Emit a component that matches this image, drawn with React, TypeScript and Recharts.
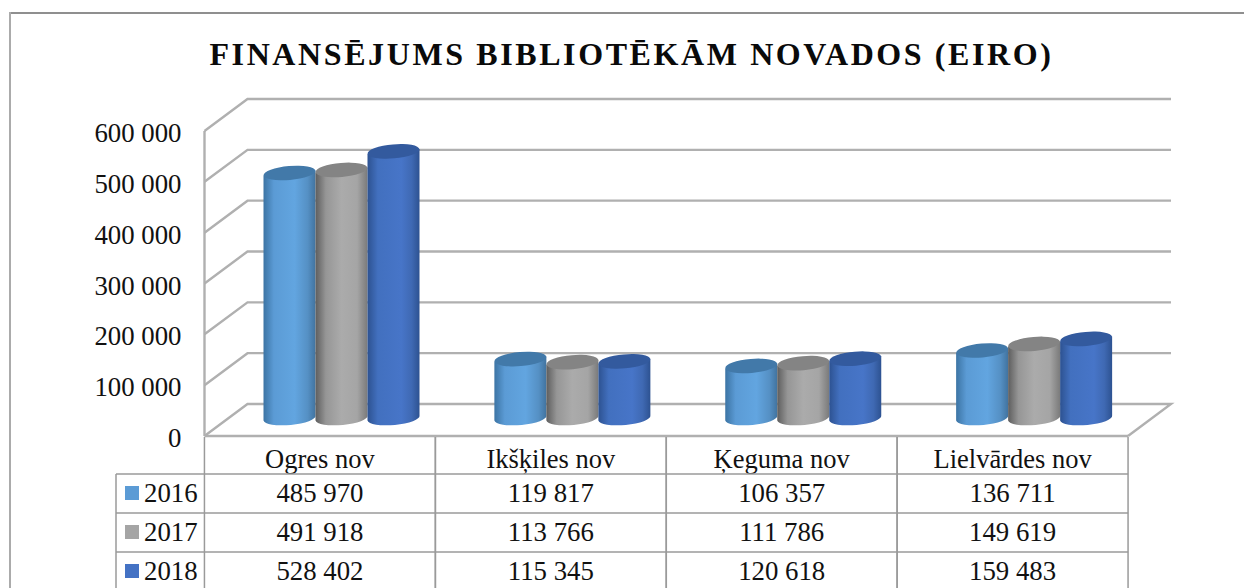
import { BarChart, Bar, XAxis, YAxis, CartesianGrid } from 'recharts';

const categories = ['Ogres nov', 'Ikšķiles nov', 'Ķeguma nov', 'Lielvārdes nov'];
const values2016 = [485970, 119817, 106357, 136711];
const values2017 = [491918, 113766, 111786, 149619];
const values2018 = [528402, 115345, 120618, 159483];
const yTicks = [0, 100000, 200000, 300000, 400000, 500000, 600000];

const seriesNames = ['2016', '2017', '2018'];
const seriesValues = [values2016, values2017, values2018];
const seriesColors = ['#5b9bd5', '#a5a5a5', '#4472c4'];
const topColors = ['#4279a9', '#848484', '#335a9e'];

const chartData = categories.map((name, i) => ({
  name,
  y2016: values2016[i],
  y2017: values2017[i],
  y2018: values2018[i],
}));

const FONT = '"Liberation Serif", "Times New Roman", serif';
const DEPTH_X = 43;
const DEPTH_Y = 32;
const WALL = '#b0b0b0';
const TABLE = '#9a9a9a';

const fmt = (n: number) => String(n).replace(/\B(?=(\d{3})+$)/g, ' ');

// bars stand halfway into the floor
const Cylinder = (props: any) => {
  const { x, y, width, height, index, seriesIdx } = props;
  const cx = x + 22;
  const top = y - 16;
  const base = y + height - 18;
  const rx = width / 2;
  const ry = 7;
  const tilt = 2.5;
  const right = cx + width;
  return (
    <g key={index}>
      <path
        d={`M${cx},${top + tilt} L${cx},${base + tilt} A${rx},${ry} -5 0 0 ${right},${base - tilt} L${right},${top - tilt} Z`}
        fill={`url(#cyl${seriesIdx})`}
      />
      <ellipse
        cx={cx + rx}
        cy={top}
        rx={rx}
        ry={ry}
        transform={`rotate(-5 ${cx + rx} ${top})`}
        fill={topColors[seriesIdx]}
      />
    </g>
  );
};

const renderGridLine = (props: any) => {
  const { x1, x2, y1, index } = props;
  const isFloor = Math.abs(y1 - 436) < 1;
  const backY = y1 - DEPTH_Y;
  return (
    <g key={index}>
      <polyline
        points={`${x1},${y1} ${x1 + DEPTH_X},${backY} ${x2 + DEPTH_X},${backY}${isFloor ? ` ${x2},${y1}` : ''}`}
        fill="none"
        stroke={WALL}
        strokeWidth={2.4}
      />
      {isFloor && <line x1={x1} x2={x2} y1={y1} y2={y1} stroke={WALL} strokeWidth={2.4} />}
    </g>
  );
};

const YTick = ({ x, y, payload }: any) => (
  <text x={x} y={y + 11} textAnchor="end" fontFamily={FONT} fontSize={26.8} fill="#111">
    {fmt(payload.value)}
  </text>
);

const ROW_TOP = 474;
const ROW_H = 39;
const COL_W = 231;

// the data table under the plot hangs off the category ticks
const TableTick = ({ x, payload, index }: any) => {
  const left = x - COL_W / 2;
  const right = left + COL_W;
  const textProps = { fontFamily: FONT, fontSize: 26.5, fill: '#111' };
  return (
    <g>
      <line x1={left} x2={left} y1={437} y2={588} stroke={TABLE} strokeWidth={1.5} />
      <line x1={right} x2={right} y1={437} y2={588} stroke={TABLE} strokeWidth={1.5} />
      <text x={x} y={468} textAnchor="middle" {...textProps}>
        {payload.value}
      </text>
      {seriesValues.map((vals, s) => (
        <g key={seriesNames[s]}>
          <line x1={left} x2={right} y1={ROW_TOP + s * ROW_H} y2={ROW_TOP + s * ROW_H} stroke={TABLE} strokeWidth={1.5} />
          <text x={x} y={ROW_TOP + 28 + s * ROW_H} textAnchor="middle" {...textProps} fontSize={26.8}>
            {fmt(vals[index])}
          </text>
          {index === 0 && (
            <>
              <line x1={116} x2={left} y1={ROW_TOP + s * ROW_H} y2={ROW_TOP + s * ROW_H} stroke={TABLE} strokeWidth={1.5} />
              <rect x={125} y={ROW_TOP + 12 + s * ROW_H} width={14} height={14} fill={seriesColors[s]} />
              <text x={144} y={ROW_TOP + 28 + s * ROW_H} {...textProps} fontSize={26.8}>
                {seriesNames[s]}
              </text>
            </>
          )}
        </g>
      ))}
      {index === 0 && <line x1={116} x2={116} y1={ROW_TOP} y2={588} stroke={TABLE} strokeWidth={1.5} />}
    </g>
  );
};

const App = () => {
  return (
    <div style={{ position: 'absolute', left: 0, top: 0, width: 1244, height: 588, overflow: 'hidden', background: '#fff' }}>
      <div style={{ position: 'absolute', left: 9, top: 12, width: 1235, height: 2, background: '#8f8f8f' }} />
      <div style={{ position: 'absolute', left: 9, top: 12, width: 2, height: 576, background: '#ababab' }} />
      <div
        style={{
          position: 'absolute',
          left: 0,
          width: 1263,
          top: 36,
          textAlign: 'center',
          fontFamily: FONT,
          fontWeight: 'bold',
          fontSize: 32,
          letterSpacing: 2.6,
          lineHeight: '36px',
          color: '#0a0a0a',
        }}
      >
        FINANSĒJUMS BIBLIOTĒKĀM NOVADOS (EIRO)
      </div>
      <BarChart
        width={1244}
        height={588}
        data={chartData}
        margin={{ top: 131, right: 116, bottom: 0, left: 0 }}
        barCategoryGap={39}
        barGap={0}
        style={{ position: 'absolute', left: 0, top: 0 }}
      >
        <defs>
          <linearGradient id="cyl0" x1="0" x2="1" y1="0" y2="0">
            <stop offset="0" stopColor="#3c74a4" />
            <stop offset="0.2" stopColor="#5b9bd5" />
            <stop offset="0.6" stopColor="#62a5e0" />
            <stop offset="0.85" stopColor="#5590c4" />
            <stop offset="1" stopColor="#41739f" />
          </linearGradient>
          <linearGradient id="cyl1" x1="0" x2="1" y1="0" y2="0">
            <stop offset="0" stopColor="#5e5e5e" />
            <stop offset="0.2" stopColor="#969696" />
            <stop offset="0.5" stopColor="#ababab" />
            <stop offset="0.8" stopColor="#a5a5a5" />
            <stop offset="1" stopColor="#7a7a7a" />
          </linearGradient>
          <linearGradient id="cyl2" x1="0" x2="1" y1="0" y2="0">
            <stop offset="0" stopColor="#2d5291" />
            <stop offset="0.2" stopColor="#4270bf" />
            <stop offset="0.65" stopColor="#4775c8" />
            <stop offset="0.85" stopColor="#3f69b3" />
            <stop offset="1" stopColor="#2d5291" />
          </linearGradient>
        </defs>
        <CartesianGrid vertical={false} horizontal={renderGridLine} />
        <XAxis
          dataKey="name"
          height={152}
          axisLine={false}
          tickLine={false}
          interval={0}
          tick={<TableTick />}
        />
        <YAxis
          width={204.5}
          domain={[0, 600000]}
          ticks={yTicks}
          tickLine={false}
          tickSize={0}
          tickMargin={23}
          axisLine={{ stroke: WALL, strokeWidth: 2.4 }}
          tick={<YTick />}
        />
        <Bar dataKey="y2016" barSize={52} isAnimationActive={false} shape={(p: any) => <Cylinder {...p} seriesIdx={0} />} />
        <Bar dataKey="y2017" barSize={52} isAnimationActive={false} shape={(p: any) => <Cylinder {...p} seriesIdx={1} />} />
        <Bar dataKey="y2018" barSize={52} isAnimationActive={false} shape={(p: any) => <Cylinder {...p} seriesIdx={2} />} />
      </BarChart>
    </div>
  );
};

export default App;
